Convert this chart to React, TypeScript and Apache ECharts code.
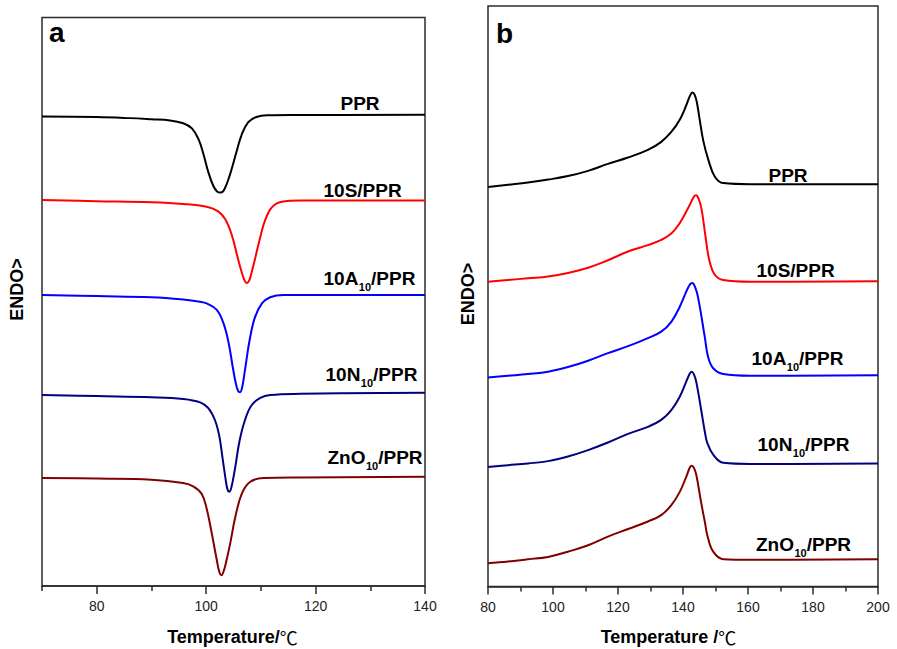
import React, { useEffect, useRef } from 'react';
import * as echarts from 'echarts';

const FONT = '"Liberation Sans", Arial, Helvetica, sans-serif';

// ---- Panel a : temperature (°C) vs. offset heat flow (a.u.) ----
const aTicksMajor = [80, 100, 120, 140];
const aTicksMinor = [70, 90, 110, 130];
const aPPR = [[70, 82.6], [80, 82.5], [86, 82.3], [90, 82.1], [93.4, 81.9], [95.8, 81.4], [97.4, 80.5], [98.6, 78.6], [99.5, 76.0], [100.4, 72.8], [101.3, 70.4], [102.0, 69.4], [102.6, 69.2], [103.3, 69.7], [104.4, 72.5], [105.5, 76.2], [106.5, 79.4], [107.7, 81.6], [109.2, 82.5], [111.1, 82.8], [117, 82.85], [140, 82.9]];
const a10S = [[70, 67.9], [80, 67.7], [90, 67.5], [95.8, 67.2], [100.1, 66.7], [102.2, 65.9], [103.5, 64.5], [104.7, 61.7], [105.7, 58.0], [106.5, 55.2], [107.0, 53.8], [107.4, 53.3], [107.9, 53.8], [108.4, 55.5], [108.9, 57.4], [109.9, 61.4], [110.8, 64.4], [112.0, 66.6], [113.8, 67.6], [117.2, 67.8], [140, 67.8]];
const a10A = [[70, 51.2], [80, 51.0], [90, 50.8], [95.8, 50.4], [98.9, 50.0], [100.1, 49.7], [101.9, 48.6], [103.1, 46.4], [104.1, 42.8], [104.9, 38.3], [105.5, 35.3], [105.9, 34.2], [106.2, 34.1], [106.6, 35.0], [107.1, 38.0], [107.9, 43.0], [108.9, 47.2], [110.2, 49.7], [111.7, 50.8], [114.1, 51.2], [117.2, 51.2], [140, 51.2]];
const a10N = [[70, 33.6], [80, 33.4], [90, 33.2], [95.8, 32.9], [98.9, 32.3], [100.4, 31.3], [101.6, 29.2], [102.4, 26.4], [103.0, 22.5], [103.6, 18.5], [103.9, 17.0], [104.2, 16.6], [104.6, 17.3], [105.3, 20.8], [106.1, 25.5], [107.1, 29.2], [108.3, 31.8], [109.9, 33.1], [111.7, 33.6], [117.2, 33.8], [140, 34.0]];
const aZnO = [[70, 19.0], [80, 18.9], [90, 18.7], [95.8, 18.1], [97.7, 17.5], [99.2, 16.2], [100.1, 13.6], [101.0, 9.4], [101.9, 4.8], [102.4, 2.5], [102.8, 1.9], [103.2, 2.6], [103.6, 4.0], [104.4, 7.5], [105.3, 12.0], [106.5, 16.2], [108.0, 18.3], [110.5, 19.0], [117.2, 19.1], [140, 19.2]];

// ---- Panel b ----
const bPPR = [[80, 68.8], [86.2, 69.2], [92.3, 69.6], [98.5, 70.1], [104.6, 70.7], [110.8, 71.6], [116.9, 72.8], [123.1, 73.9], [129.2, 75.2], [133.3, 76.6], [136.4, 78.3], [139.0, 80.4], [141.0, 82.9], [142.2, 84.6], [142.9, 85.1], [143.6, 84.7], [144.3, 83.3], [145.0, 80.9], [146.2, 76.9], [147.8, 73.5], [149.8, 70.6], [152.4, 69.5], [160.6, 69.3], [200, 69.3]];
const b10S = [[80, 52.5], [86.2, 52.8], [92.3, 53.1], [98.5, 53.4], [104.6, 54.0], [110.8, 54.9], [116.9, 56.2], [123.1, 57.7], [129.2, 58.8], [133.3, 59.7], [136.4, 60.8], [139.0, 62.6], [141.5, 65.1], [143.3, 67.1], [144.0, 67.4], [144.8, 66.8], [145.7, 65.0], [146.8, 60.8], [148.1, 56.2], [149.8, 53.7], [152.4, 52.8], [160.6, 52.5], [200, 52.6]];
const b10A = [[80, 36.0], [86.2, 36.3], [92.3, 36.6], [98.5, 37.0], [104.6, 37.8], [110.8, 38.9], [116.9, 40.2], [123.1, 41.4], [129.2, 42.8], [133.3, 43.9], [136.4, 45.6], [139.0, 48.2], [141.0, 50.8], [142.2, 52.1], [142.9, 52.3], [143.7, 51.6], [144.6, 49.9], [146.7, 43.0], [147.7, 39.6], [149.3, 37.6], [152.4, 36.6], [160.6, 36.3], [200, 36.4]];
const b10N = [[80, 20.6], [86.2, 20.9], [92.3, 21.2], [98.5, 21.6], [104.6, 22.4], [110.8, 23.5], [116.9, 24.8], [123.1, 26.3], [129.2, 27.5], [133.3, 28.7], [136.4, 30.4], [139.0, 32.7], [141.0, 35.3], [142.1, 36.7], [142.7, 37.0], [143.4, 36.5], [144.1, 35.2], [145.6, 30.4], [146.8, 26.4], [147.5, 24.7], [149.3, 22.7], [152.4, 21.3], [160.6, 21.1], [200, 21.2]];
const bZnO = [[80, 4.0], [86.2, 4.3], [92.3, 4.7], [98.5, 5.1], [104.6, 6.0], [110.8, 7.1], [116.9, 8.6], [123.1, 9.9], [129.2, 11.2], [133.3, 12.3], [136.4, 14.0], [139.0, 16.3], [141.0, 18.9], [142.1, 20.5], [142.7, 20.8], [143.4, 20.4], [144.1, 19.2], [145.6, 14.4], [146.8, 10.9], [147.5, 8.8], [149.3, 6.0], [152.4, 4.7], [160.6, 4.6], [200, 4.7]];

const COLORS = ['#000000', '#ff0000', '#0000ff', '#000080', '#800000'];
const seriesNames = ['PPR', '10S/PPR', '10A10/PPR', '10N10/PPR', 'ZnO10/PPR'];
const aData = [aPPR, a10S, a10A, a10N, aZnO];
const bData = [bPPR, b10S, b10A, b10N, bZnO];

// label pieces: [main, subscript, rest]
const labelParts: [string, string, string][] = [
  ['PPR', '', ''],
  ['10S/PPR', '', ''],
  ['10A', '10', '/PPR'],
  ['10N', '10', '/PPR'],
  ['ZnO', '10', '/PPR'],
];

const AX = '#2b2b2b';
const MAIN_FONT = `bold 19px ${FONT}`;
const SUB_FONT = `bold 11px ${FONT}`;

function txt(x: number, y: number, text: string, font: string, rotation = 0, align = 'left') {
  return {
    type: 'text', x, y, rotation, silent: true,
    style: { text, font, fill: '#000', align, verticalAlign: 'middle', textAlign: align, textVerticalAlign: 'middle' },
  };
}

function measure(text: string, font: string) {
  const c = document.createElement('canvas').getContext('2d');
  if (!c) return text.length * 10;
  c.font = font;
  return c.measureText(text).width;
}

function label(x: number, cy: number, parts: [string, string, string]) {
  const out: any[] = [txt(x, cy, parts[0], MAIN_FONT)];
  if (parts[1]) {
    const w1 = measure(parts[0], MAIN_FONT);
    const ws = measure(parts[1], SUB_FONT);
    out.push(txt(x + w1 + 0.5, cy + 8.5, parts[1], SUB_FONT));
    out.push(txt(x + w1 + ws + 0.5, cy, parts[2], MAIN_FONT));
  }
  return out;
}

function title(x: number, y: number, text: string) {
  return {
    type: 'text', x, y, silent: true,
    style: {
      text,
      rich: {
        b: { fontSize: 18, fontWeight: 'bold', fontFamily: FONT, fill: '#000', color: '#000' },
        c: { fontSize: 18, fontWeight: 'normal', fontFamily: '"Noto Sans CJK SC", "DejaVu Sans", sans-serif', fill: '#000', color: '#000' },
      },
      align: 'center', verticalAlign: 'middle', textAlign: 'center', textVerticalAlign: 'middle', fill: '#000',
    },
  };
}

const aLabelPos = [[340.5, 103], [323.5, 190], [323.5, 278], [325.5, 374], [327.5, 457]];
const bLabelPos = [[768.5, 175], [756.5, 270], [751.5, 358], [757.5, 444], [756, 544]];

export default function App() {
  const ref = useRef<HTMLDivElement>(null);
  useEffect(() => {
    if (!ref.current) return;
    const chart = echarts.init(ref.current, null, { renderer: 'svg' });
    const tickStyle = { color: AX, width: 1.5 };
    const labelStyle = { fontSize: 14, color: '#222', fontFamily: FONT };
    const graphics: any[] = [
      txt(49, 32.5, 'a', `bold 28px ${FONT}`),
      txt(496, 33, 'b', `bold 28px ${FONT}`),
      txt(17, 289.5, 'ENDO>', `bold 18px ${FONT}`, Math.PI / 2, 'center'),
      txt(467.5, 294, 'ENDO>', `bold 18px ${FONT}`, Math.PI / 2, 'center'),
      title(232.5, 636.5, '{b|Temperature/}{c|℃}'),
      title(668.5, 636.5, '{b|Temperature /}{c|℃}'),
    ];
    labelParts.forEach((p, i) => {
      graphics.push(...label(aLabelPos[i][0], aLabelPos[i][1], p));
      graphics.push(...label(bLabelPos[i][0], bLabelPos[i][1], p));
    });
    const option: any = {
      animation: false,
      backgroundColor: '#ffffff',
      grid: [
        { left: 42, top: 17.5, width: 383, height: 568.5, show: true, borderColor: AX, borderWidth: 1.5, backgroundColor: 'transparent' },
        { left: 488, top: 6, width: 390, height: 580.5, show: true, borderColor: AX, borderWidth: 1.5, backgroundColor: 'transparent' },
      ],
      xAxis: [
        {
          gridIndex: 0, type: 'value', min: 70, max: 140, position: 'bottom',
          axisLine: { show: true, onZero: false, lineStyle: tickStyle },
          axisTick: { show: true, customValues: aTicksMajor, length: 8, lineStyle: tickStyle },
          axisLabel: { show: true, customValues: aTicksMajor, margin: 13, ...labelStyle },
          splitLine: { show: false },
        },
        {
          gridIndex: 0, type: 'value', min: 70, max: 140, position: 'bottom',
          axisLine: { show: false, onZero: false },
          axisTick: { show: true, customValues: aTicksMinor, length: 5, lineStyle: tickStyle },
          axisLabel: { show: false },
          splitLine: { show: false },
        },
        {
          gridIndex: 1, type: 'value', min: 80, max: 200, interval: 20, position: 'bottom',
          axisLine: { show: true, onZero: false, lineStyle: tickStyle },
          axisTick: { show: true, length: 8, lineStyle: tickStyle },
          minorTick: { show: true, splitNumber: 2, length: 5, lineStyle: tickStyle },
          axisLabel: { show: true, margin: 13, showMinLabel: true, showMaxLabel: true, ...labelStyle },
          splitLine: { show: false },
          minorSplitLine: { show: false },
        },
      ],
      yAxis: [
        { gridIndex: 0, type: 'value', min: 0, max: 100, show: false },
        { gridIndex: 1, type: 'value', min: 0, max: 100, show: false },
      ],
      series: [
        ...aData.map((d, i) => ({
          name: 'a ' + seriesNames[i], type: 'line', xAxisIndex: 0, yAxisIndex: 0, data: d,
          showSymbol: false, smooth: 0.4, lineStyle: { color: COLORS[i], width: 2 }, itemStyle: { color: COLORS[i] },
        })),
        ...bData.map((d, i) => ({
          name: 'b ' + seriesNames[i], type: 'line', xAxisIndex: 2, yAxisIndex: 1, data: d,
          showSymbol: false, smooth: 0.4, lineStyle: { color: COLORS[i], width: 2 }, itemStyle: { color: COLORS[i] },
        })),
      ],
      graphic: graphics,
    };
    chart.setOption(option);
    return () => chart.dispose();
  }, []);
  return <div ref={ref} style={{ position: 'fixed', left: 0, top: 0, width: 897, height: 649, background: '#fff' }} />;
}
